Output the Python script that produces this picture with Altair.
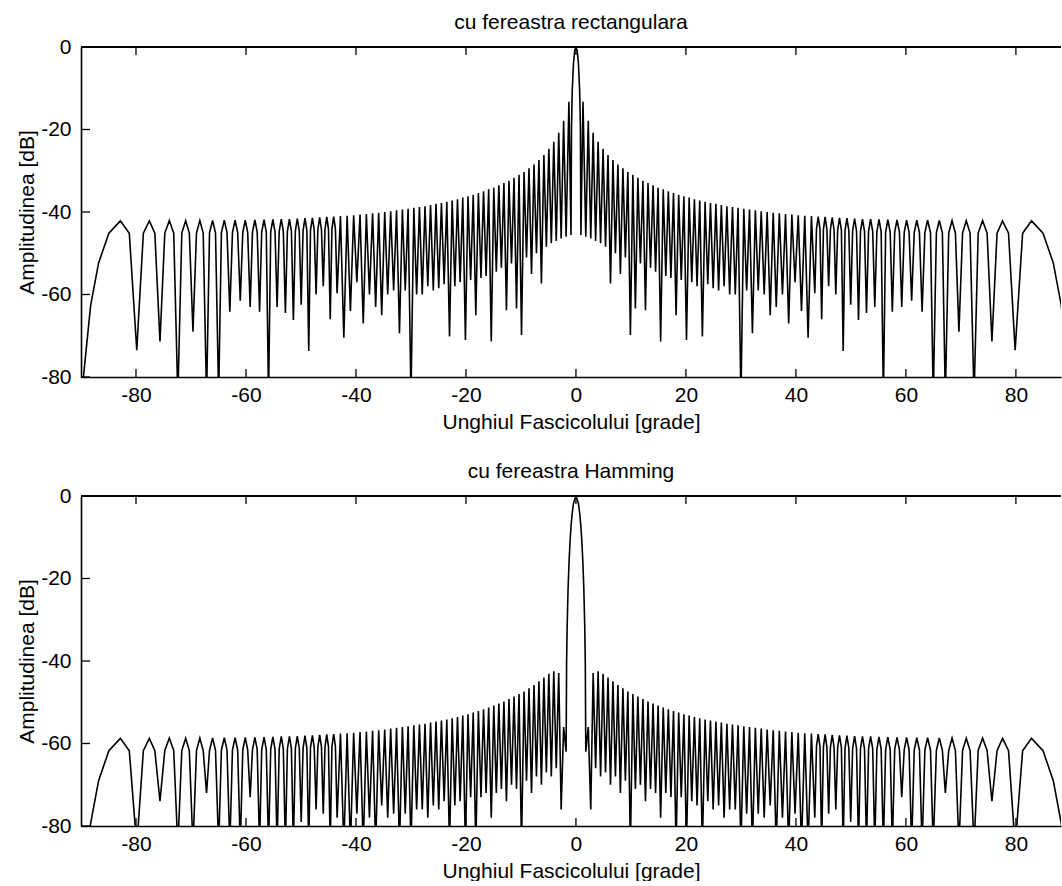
import altair as alt
import pandas as pd

FONT = "Liberation Sans"

# ---- lobe geometry (right half, degrees); left half is the mirror image ----
NULL_DEG = [0.90, 1.79, 2.69, 3.58, 4.48, 5.38, 6.28, 7.18, 8.08, 8.99,
            9.90, 10.81, 11.72, 12.64, 13.56, 14.48, 15.40, 16.34, 17.27, 18.21,
            19.15, 20.10, 21.06, 22.02, 22.99, 23.97, 24.95, 25.94, 26.94, 27.95,
            28.97, 30.00, 31.04, 32.09, 33.15, 34.23, 35.32, 36.42, 37.55, 38.68,
            39.84, 41.01, 42.21, 43.43, 44.68, 45.95, 47.25, 48.59, 49.96, 51.38,
            52.83, 54.34, 55.90, 57.53, 59.24, 61.04, 62.94, 64.97, 67.17, 69.64,
            72.39, 75.64, 79.86]
PEAK_DEG = [1.28, 2.24, 3.13, 4.03, 4.93, 5.83, 6.73, 7.63, 8.54, 9.44,
            10.35, 11.26, 12.18, 13.10, 14.02, 14.94, 15.87, 16.80, 17.74, 18.68,
            19.63, 20.58, 21.54, 22.51, 23.48, 24.46, 25.45, 26.44, 27.45, 28.46,
            29.48, 30.52, 31.56, 32.62, 33.69, 34.77, 35.87, 36.98, 38.11, 39.26,
            40.42, 41.61, 42.82, 44.05, 45.31, 46.60, 47.92, 49.27, 50.67, 52.10,
            53.58, 55.11, 56.71, 58.38, 60.13, 61.98, 63.94, 66.07, 68.39, 70.97,
            73.94, 77.57, 82.84]
# rounded lobe shoulders (two per lobe, from about 43 deg outwards)
SHOULDER_DEG = [43.74, 44.37, 45.00, 45.63, 46.27, 46.93, 47.59, 48.27, 48.93, 49.62,
                50.31, 51.02, 51.74, 52.47, 53.21, 53.96,
                54.72, 55.50, 56.31, 57.14, 57.96, 58.82, 59.69, 60.58, 61.51, 62.46,
                63.45, 64.47, 65.54, 66.63, 67.78, 69.00, 70.30, 71.67, 73.14, 74.76,
                76.57, 78.66]
EDGE_DEG = [81.22, 84.93, 86.80, 88.24, 89.60, 90.00]

# ---- rectangular window ----
RECT_MAIN_DEG = [0.0, 0.224, 0.448, 0.671, 0.806]
RECT_MAIN_DB = [0.0, -0.9, -3.9, -10.5, -19.2]
RECT_PEAK_DB = [-13.3, -17.9, -20.8, -23.0, -24.7, -26.2, -27.4, -28.5, -29.4, -30.3,
                -31.0, -31.7, -32.4, -33.0, -33.5, -34.1, -34.5, -35.0, -35.4, -35.8,
                -36.2, -36.5, -36.9, -37.2, -37.5, -37.8, -38.0, -38.3, -38.6, -38.8,
                -39.0, -39.2, -39.4, -39.6, -39.8, -40.0, -40.2, -40.3, -40.5, -40.6,
                -40.8, -40.9, -41.0, -41.1, -41.2, -41.3, -41.4, -41.5, -41.6, -41.7,
                -41.7, -41.8, -41.85, -41.9, -41.95, -42.0, -42.0, -42.05, -42.1, -42.1,
                -42.1, -42.15, -42.15]
RECT_NULL_DB = [-45.6, -46.0, -46.4, -47.0, -47.6, -48.4, -57.3, -50.0, -55.0, -51.0,
                -69.8, -63.4, -52.5, -63.8, -53.5, -54.5, -71.4, -55.5, -56.0, -65.0,
                -56.5, -71.0, -57.0, -58.0, -70.2, -57.5, -58.5, -59.0, -58.0, -60.0,
                -60.0, -85.0, -59.0, -69.4, -59.0, -60.0, -65.0, -63.0, -60.0, -67.0,
                -57.0, -64.0, -70.5, -59.7, -66.0, -58.0, -60.0, -73.7, -62.5, -66.2,
                -64.5, -63.0, -85.0, -64.2, -63.0, -61.5, -64.2, -85.0, -85.0, -69.0,
                -85.0, -71.4, -73.5]
RECT_SHOULDER_DB = [-44.1, -44.1, -44.2, -44.2, -44.3, -44.3, -44.4, -44.4, -44.5, -44.5,
                    -44.6, -44.6, -44.7, -44.7, -44.7, -44.7,
                    -44.8, -44.8, -44.85, -44.85, -44.9, -44.9, -44.95, -44.95, -45.0, -45.0,
                    -45.0, -45.0, -45.05, -45.05, -45.1, -45.1, -45.1, -45.1, -45.1, -45.1,
                    -45.15, -45.15]
RECT_EDGE_DB = [-45.15, -45.15, -52.35, -62.6, -80.5, -95.0]

# ---- Hamming window (side lobes start after the 2nd null) ----
HAMM_MAIN_DEG = [0.0, 0.448, 0.716, 0.895, 1.074, 1.253, 1.432, 1.612, 1.701]
HAMM_MAIN_DB = [0.0, -1.75, -4.6, -7.4, -11.1, -15.9, -22.5, -32.4, -40.7]
HAMM_PEAK_DB = [-56.0, -42.9, -42.5, -43.1, -44.0, -44.9, -45.8, -46.6, -47.4,
                -48.0, -48.6, -49.2, -49.8, -50.3, -50.8, -51.3, -51.7, -52.1, -52.5,
                -52.9, -53.2, -53.6, -53.9, -54.2, -54.45, -54.7, -54.9, -55.2, -55.4,
                -55.6, -55.8, -56.0, -56.2, -56.4, -56.6, -56.8, -56.9, -57.1, -57.2,
                -57.4, -57.5, -57.6, -57.7, -57.8, -57.9, -58.0, -58.1, -58.2, -58.3,
                -58.3, -58.4, -58.45, -58.5, -58.55, -58.6, -58.6, -58.65, -58.7, -58.7,
                -58.7, -58.75, -58.75]
HAMM_NULL_DB = [-62.0, -76.0, -66.0, -68.0, -67.0, -70.0, -68.0, -72.0, -69.0,
                -85.0, -71.0, -70.0, -74.0, -71.0, -72.0, -78.0, -72.0, -73.0, -85.0,
                -73.0, -85.0, -74.0, -75.0, -85.0, -74.0, -76.0, -75.0, -78.0, -76.0,
                -76.0, -85.0, -77.0, -85.0, -77.0, -78.0, -75.0, -85.0, -78.0, -85.0,
                -77.0, -85.0, -85.0, -78.0, -85.0, -77.0, -76.0, -85.0, -79.0, -85.0,
                -85.0, -85.0, -85.0, -85.0, -73.0, -85.0, -85.0, -85.0, -72.0, -85.0,
                -85.0, -74.0, -85.0]
HAMM_SHOULDER_DB = [-60.7, -60.7, -60.8, -60.8, -60.9, -60.9, -61.0, -61.0, -61.1, -61.1,
                    -61.2, -61.2, -61.3, -61.3, -61.3, -61.3,
                    -61.4, -61.4, -61.45, -61.45, -61.5, -61.5, -61.55, -61.55, -61.6, -61.6,
                    -61.6, -61.6, -61.65, -61.65, -61.7, -61.7, -61.7, -61.7, -61.7, -61.7,
                    -61.75, -61.75]
HAMM_EDGE_DB = [-61.75, -61.75, -69.0, -79.3, -92.0, -100.0]

X_TICKS = [-80, -60, -40, -20, 0, 20, 40, 60, 80]
Y_TICKS = [0, -20, -40, -60, -80]
X_DOMAIN = [-90, 88.2]
W, H = 980, 330


def pattern(parts):
    rows = []
    for degs, dbs in parts:
        for d, v in zip(degs, dbs):
            rows.append((d, v))
            if d != 0:
                rows.append((-d, v))
    return pd.DataFrame(rows, columns=["x", "y"]).sort_values("x").reset_index(drop=True)


rect_df = pattern([(RECT_MAIN_DEG, RECT_MAIN_DB), (NULL_DEG, RECT_NULL_DB),
                   (PEAK_DEG, RECT_PEAK_DB), (SHOULDER_DEG, RECT_SHOULDER_DB),
                   (EDGE_DEG, RECT_EDGE_DB)])
hamm_df = pattern([(HAMM_MAIN_DEG, HAMM_MAIN_DB), (NULL_DEG[1:], HAMM_NULL_DB),
                   (PEAK_DEG[1:], HAMM_PEAK_DB), (SHOULDER_DEG, HAMM_SHOULDER_DB),
                   (EDGE_DEG, HAMM_EDGE_DB)])

xscale = alt.Scale(domain=X_DOMAIN, nice=False, zero=False)
yscale = alt.Scale(domain=[-80, 0], nice=False, zero=False)
xaxis = alt.Axis(values=X_TICKS, title="Unghiul Fascicolului [grade]",
                 labelExpr="datum.value + ''")
yaxis = alt.Axis(values=Y_TICKS, title="Amplitudinea [dB]",
                 labelExpr="datum.value + ''")


def panel(df, title):
    xt = pd.DataFrame({"x": X_TICKS})
    yt = pd.DataFrame({"y": Y_TICKS})
    line = alt.Chart(df).mark_line(color="black", strokeWidth=1.6, clip=True).encode(
        x=alt.X("x:Q", scale=xscale, axis=xaxis),
        y=alt.Y("y:Q", scale=yscale, axis=yaxis),
    )
    tick_bottom = alt.Chart(xt).mark_rule(color="black", strokeWidth=1.3).encode(
        x=alt.X("x:Q", scale=xscale, axis=xaxis), y=alt.value(H), y2=alt.value(H - 8))
    tick_top = alt.Chart(xt).mark_rule(color="black", strokeWidth=1.3).encode(
        x=alt.X("x:Q", scale=xscale, axis=xaxis), y=alt.value(0), y2=alt.value(8))
    tick_left = alt.Chart(yt).mark_rule(color="black", strokeWidth=1.3).encode(
        y=alt.Y("y:Q", scale=yscale, axis=yaxis), x=alt.value(0), x2=alt.value(9))
    top_border = alt.Chart(xt).mark_rule(color="black", strokeWidth=1.6).encode(
        x=alt.value(0), x2=alt.value(W), y=alt.value(0))
    return alt.layer(line, tick_bottom, tick_top, tick_left, top_border).properties(
        width=W, height=H,
        title=alt.TitleParams(title, fontSize=21, fontWeight="normal", font=FONT,
                              color="black", offset=3, anchor="middle"),
    )


chart = alt.vconcat(
    panel(rect_df, "cu fereastra rectangulara"),
    panel(hamm_df, "cu fereastra Hamming"),
    spacing=29,
).properties(
    padding={"left": 16, "top": 12, "right": 0, "bottom": 0}
).configure_view(stroke=None).configure_axis(
    domainColor="black", domainWidth=1.6, grid=False, ticks=False, tickSize=0,
    labelFont=FONT, labelFontSize=21, labelColor="black", labelPadding=7,
    titleFont=FONT, titleFontSize=21, titleFontWeight="normal", titleColor="black",
    titlePadding=4,
).configure_axisX(titlePadding=6).configure_axisY(labelPadding=10, titlePadding=3)

chart.save("out.html", embed_options={"renderer": "svg", "actions": False})
